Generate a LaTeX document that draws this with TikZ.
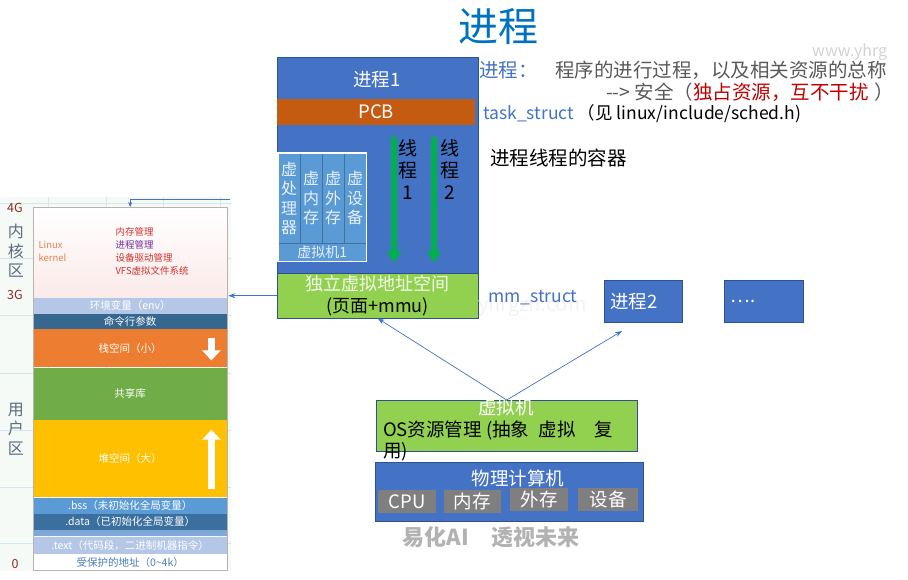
\documentclass[tikz,border=0pt]{standalone}
\usepackage{fontspec}
\setmainfont{Noto Sans CJK SC}
\usetikzlibrary{arrows.meta,positioning,calc}

\definecolor{procblue}{HTML}{4472C4}
\definecolor{boxedge}{HTML}{2F528F}
\definecolor{pcborange}{HTML}{C55A11}
\definecolor{leafgreen}{HTML}{92D050}
\definecolor{vmblue}{HTML}{5B9BD5}
\definecolor{vmedge}{HTML}{41719C}
\definecolor{titleblue}{HTML}{0070C0}
\definecolor{textgray}{HTML}{595959}
\definecolor{alertred}{HTML}{C00000}
\definecolor{threadgreen}{HTML}{00B050}
\definecolor{hwgray}{HTML}{7F7F7F}
% colours of the memory map
\definecolor{mapbg}{HTML}{F5FAF7}
\definecolor{mapgrid}{HTML}{D5E6F1}
\definecolor{mapedge}{HTML}{B9B2AE}
\definecolor{kernelpink}{HTML}{FBEAEA}
\definecolor{kernelorange}{HTML}{E4834A}
\definecolor{listred}{HTML}{D0312D}
\definecolor{listpurple}{HTML}{7030A0}
\definecolor{envblue}{HTML}{B4C7E7}
\definecolor{cmdblue}{HTML}{35678F}
\definecolor{stackorange}{HTML}{ED7D31}
\definecolor{sharedgreen}{HTML}{70AD47}
\definecolor{heapyellow}{HTML}{FFC000}
\definecolor{bssblue}{HTML}{5B9BD5}
\definecolor{datablue}{HTML}{3A6F9E}
\definecolor{stripblue}{HTML}{7FA8D8}
\definecolor{protblue}{HTML}{4A7EBB}
\definecolor{tagred}{HTML}{8B2A22}
\definecolor{zonegray}{HTML}{5A6B7D}

\newcommand{\fsz}[2]{\fontsize{#1}{#2}\selectfont}

\begin{document}
\begin{tikzpicture}[x=1pt, y=-1pt,
  font=\fsz{18.5}{22},
  procbox/.style={draw=boxedge, fill=procblue, text=white, inner sep=0, anchor=north west},
  greenbox/.style={draw=boxedge, fill=leafgreen, inner sep=0, anchor=north west},
  hwpart/.style={fill=hwgray, text=white, inner sep=0, minimum height=23},
  vcol/.style={draw=vmedge, fill=vmblue, text=white!85!vmblue, align=center, inner sep=0,
    minimum width=22, minimum height=90, anchor=north west, font=\fsz{16}{19.5}},
  threadbar/.style={-{Triangle[width=14,length=12]}, line width=6, draw=threadgreen},
  threadlbl/.style={align=center, font=\fsz{19}{22}},
  link/.style={-{Stealth[length=7,width=5]}, draw=procblue, line width=0.7},
  note/.style={anchor=west, inner sep=0},
  seg/.style={minimum width=194, inner sep=0, text=white, font=\fsz{10.5}{12}},
  sidetag/.style={text=tagred, font=\fsz{12.5}{14}},
  sidezone/.style={text=zonegray, align=center, font=\fsz{16}{19.5}},
  blockarrow/.style={-{Triangle[width=18,length=10]}, line width=7, draw=white}
]
\useasboundingbox (0,0) rectangle (908,579);

\node[text=titleblue, font=\fsz{40}{44}] (title) at (498,27) {进程};

% process 1
\node[procbox, minimum width=201, minimum height=261] (p1) at (277,57) {};
\node[text=white] (p1label) at (377,80) {进程1};
\node[fill=pcborange, text=white, inner sep=0, minimum width=198, minimum height=26,
  anchor=north west] (pcb) at (277,99) {PCB};
\node[greenbox, minimum width=201, minimum height=45, align=center, font=\fsz{18}{22}] (vas) at (277,273)
  {\textcolor{white!88!leafgreen}{独立虚拟地址空间}\\(页面+mmu)};

% virtual machine 1
\foreach \chars [count=\k from 0] in {{虚\\处\\理\\器}, {虚\\内\\存}, {虚\\外\\存}, {虚\\设\\备}}
  \node[vcol] (vcol\k) at (278+22*\k,153) {\chars};
\node[vcol, minimum width=88, minimum height=18, font=\fsz{14}{16}] (vm1) at (vcol0.south west) {虚拟机1};
\draw[white, line width=1.3] (vcol0.north west) rectangle (vm1.south east);

% threads
\coordinate (t1top) at (394,137);
\coordinate (t1tip) at (394,263);
\coordinate (t2top) at (434,137);
\coordinate (t2tip) at (434,263);
\draw[threadbar] (t1top) -- (t1tip);
\draw[threadbar] (t2top) -- (t2tip);
\node[threadlbl] (t1lbl) at (408,169) {线\\程\\1};
\node[threadlbl] (t2lbl) at (450,169) {线\\程\\2};

% notes on the right
\node[note, font=\fsz{19.5}{22}] (defn) at (479,70)
  {\textcolor{procblue}{进程：}\hspace{0.9em}\textcolor{textgray}{程序的进行过程，以及相关资源的总称}};
\node[note, font=\fsz{19.5}{22}] (safety) at (606,92)
  {\textcolor{textgray}{-{}->\ 安全（}\textcolor{alertred}{独占资源，互不干扰}\textcolor{textgray}{\hspace{0.3em}）}};
\node[note, font=\fsz{17.5}{22}] (tstruct) at (483,114) {\textcolor{procblue}{task\_struct}\ （见 linux/include/sched.h)};
\node[note, font=\fsz{19.5}{22}] (container) at (490,158) {进程线程的容器};
\node[note, text=gray!10, font=\fsz{20}{22}] (wmark2) at (478,306) {yhrgzh.com};
\node[note, text=procblue, font=\fsz{17.5}{22}] (mmstruct) at (488,298) {mm\_struct};
\node[note, text=gray!35, font=\fsz{16}{18}] (wmark1) at (812,52) {www.yhrg};

% other processes
\node[procbox, minimum width=78, minimum height=42, text width=66, align=left] (p2) at (604,280) {进程2};
\node[procbox, minimum width=79, minimum height=42, text width=66, align=left] (pmore) at (724,280) {….};

% OS and hardware
\node[greenbox, minimum width=261, minimum height=51] (vmos) at (376,400) {};
\node[text=white, inner sep=0] (vmoslbl) at (506,407) {虚拟机};
\node[note] (osline1) at (383,430) {OS资源管理 (抽象\hspace{0.5em}虚拟\hspace{1em}复};
\node[note] (osline2) at (383,452) {用)};

\node[procbox, minimum width=268, minimum height=59] (hw) at (375,462) {};
\node[text=white, inner sep=0] (hwlbl) at (518,478) {物理计算机};
\node[hwpart, minimum width=58, anchor=north west] (cpu) at (378,490) {CPU};
\node[hwpart, minimum width=57, right=7pt of cpu] (mem) {内存};
\node[hwpart, minimum width=58, right=9pt of mem, yshift=2pt] (disk) {外存};
\node[hwpart, minimum width=60, right=10pt of disk] (dev) {设备};

\coordinate (p2tip) at (622,331);
\draw[link] (vmos.north) -- (vas.south);
\draw[link] (vmos.north) -- (p2tip);

\node[text=gray!60, font=\bfseries\fsz{22}{24}] (slogan) at (491,537) {易化AI\hspace{1em}透视未来};

% memory map on the left
\fill[mapbg] (0,197) rectangle (231,571);
\foreach \gy in {203,258,315,373,430,487,543}
  \draw[mapgrid, line width=0.8] (0,\gy) -- (231,\gy);
\foreach \gx in {48,106,163,220}
  \draw[mapgrid, line width=0.8] (\gx,197) -- (\gx,571);

\node[seg, minimum height=90, anchor=north west, top color=white, bottom color=kernelpink] (kernel) at (33,207) {};
\node[seg, fill=envblue, minimum height=16, below=0pt of kernel] (env) {环境变量（env）};
\node[seg, fill=cmdblue, minimum height=15, below=0pt of env] (cmd) {命令行参数};
\node[seg, fill=stackorange, minimum height=38, below=0pt of cmd] (stack) {栈空间（小）};
\node[seg, fill=sharedgreen, minimum height=52, below=0pt of stack] (shared) {共享库};
\node[seg, fill=heapyellow, minimum height=77, below=0pt of shared] (heap) {堆空间（大）};
\node[seg, fill=bssblue, minimum height=16, below=0pt of heap] (bss) {.bss（未初始化全局变量）};
\node[seg, fill=datablue, minimum height=16, below=0pt of bss] (data) {.data（已初始化全局变量）};
\node[seg, fill=stripblue, minimum height=6, below=0pt of data] (strip) {};
\node[seg, fill=envblue, minimum height=17, below=0pt of strip] (textseg) {.text（代码段，二进制机器指令）};
\node[seg, fill=white, text=protblue, minimum height=16, below=0pt of textseg] (protect) {受保护的地址（0\textasciitilde4k）};
\draw[mapedge] (kernel.north west) rectangle (protect.south east);

\node[anchor=west, text=kernelorange, align=left, font=\fsz{9.5}{13}] (kname) at (35,251) {Linux\\kernel};
\node[anchor=west, align=left, font=\fsz{9.5}{13}] (klist) at (112,251)
  {\textcolor{listred}{内存管理}\\\textcolor{listpurple}{进程管理}\\\textcolor{listred}{设备驱动管理}\\\textcolor{listred}{VFS虚拟文件系统}};

\draw[blockarrow] ($(stack.east)+(-16,-10)$) -- ($(stack.east)+(-16,12)$);
\draw[blockarrow] ($(heap.east)+(-16,30)$) -- ($(heap.east)+(-16,-29)$);

\node[sidetag] (g4) at (15,208) {4G};
\node[sidetag] (g3) at (15,295) {3G};
\node[sidetag] (g0) at (15,564) {0};
\node[sidezone] (kzone) at (16,251) {内\\核\\区};
\node[sidezone] (uzone) at (16,429) {用\\户\\区};

\draw[link, -{Stealth[length=5,width=4]}] ($(kernel.north)+(100,-8)$) -| (kernel.north);
\draw[link, shorten >=1pt] (vas.west) -- (vas.west -| env.east);

\end{tikzpicture}
\end{document}
